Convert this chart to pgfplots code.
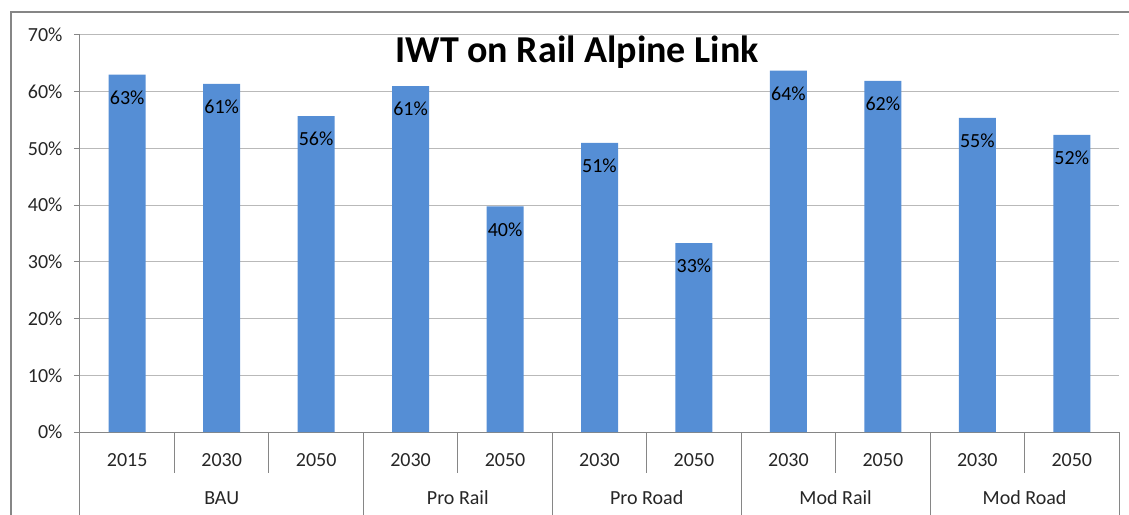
\documentclass[border=0pt]{standalone}
\usepackage{fontspec}
\setmainfont{Carlito}
\usepackage{pgfplots}
\pgfplotsset{compat=1.18}
\definecolor{barblue}{RGB}{85,142,213}
\definecolor{axisgray}{RGB}{134,134,134}
\definecolor{gridgray}{RGB}{185,185,185}
\definecolor{txt}{RGB}{38,38,38}
\begin{document}
\begin{tikzpicture}
\useasboundingbox (-80pt,-82pt) rectangle (1049pt,432pt);
\clip (-80pt,-82pt) rectangle (1049pt,432pt);
% chart frame (runs off the right and bottom edge)
\draw[axisgray, line width=2pt] (-69pt,420pt) rectangle (1100pt,-120pt);
\begin{axis}[
  scale only axis, width=1039pt, height=397pt,
  clip=false,
  ybar, bar width=37pt,
  xmin=-0.5, xmax=10.5, ymin=0, ymax=70,
  axis x line=bottom, axis y line=left,
  axis line style={-, axisgray, line width=1pt},
  xtick={0,...,10},
  xticklabels={2015,2030,2050,2030,2050,2030,2050,2030,2050,2030,2050},
  xtick style={draw=none},
  ytick={0,10,...,70},
  yticklabel={\pgfmathprintnumber{\tick}\%},
  ytick style={axisgray, line width=1pt},
  tick align=outside, major tick length=6pt,
  ymajorgrids, grid style={gridgray, line width=1pt},
  /pgf/number format/assume math mode=true,
  ticklabel style={font=\fontsize{20}{24}\selectfont, text=txt},
  xticklabel style={yshift=-12pt},
  yticklabel style={xshift=-8pt},
  nodes near coords={\pgfmathprintnumber[fixed,precision=0]{\pgfplotspointmeta}\%},
  every node near coord/.style={anchor=center, yshift=-23pt, font=\fontsize{20}{24}\selectfont, text=black},
]
\addplot[fill=barblue, draw=none] coordinates {
  (0,63.0) (1,61.4) (2,55.7) (3,61.0) (4,39.8) (5,51.0)
  (6,33.3) (7,63.7) (8,61.9) (9,55.4) (10,52.4)};
% category separators
\pgfplotsinvokeforeach{0.5,1.5,3.5,5.5,7.5,9.5}{
  \draw[axisgray, line width=1pt] (axis cs:#1,0) -- ([yshift=-41pt]axis cs:#1,0);}
\pgfplotsinvokeforeach{-0.5,2.5,4.5,6.5,8.5,10.5}{
  \draw[axisgray, line width=1pt] (axis cs:#1,0) -- ([yshift=-120pt]axis cs:#1,0);}
\node[font=\fontsize{20}{24}\selectfont, text=txt] at ([yshift=-66pt]axis cs:1,0) {BAU};
\node[font=\fontsize{20}{24}\selectfont, text=txt] at ([yshift=-66pt]axis cs:3.5,0) {Pro Rail};
\node[font=\fontsize{20}{24}\selectfont, text=txt] at ([yshift=-66pt]axis cs:5.5,0) {Pro Road};
\node[font=\fontsize{20}{24}\selectfont, text=txt] at ([yshift=-66pt]axis cs:7.5,0) {Mod Rail};
\node[font=\fontsize{20}{24}\selectfont, text=txt] at ([yshift=-66pt]axis cs:9.5,0) {Mod Road};
\end{axis}
\node[font=\fontsize{38}{42}\selectfont\bfseries] at (497pt,380pt) {IWT on Rail Alpine Link};
\end{tikzpicture}
\end{document}
